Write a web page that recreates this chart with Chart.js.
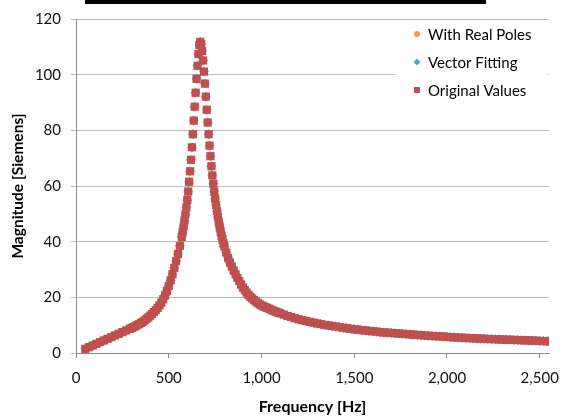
<!DOCTYPE html>
<html>
<head>
<meta charset="utf-8">
<script src="https://cdn.jsdelivr.net/npm/chart.js@4/dist/chart.umd.min.js"></script>
<style>
  html, body { margin: 0; padding: 0; background: #fff; }
  #wrap { position: relative; width: 562px; height: 416px; }
  #bar { position: absolute; left: 85px; top: 0; width: 401px; height: 4px; background: #000; }
</style>
</head>
<body>
<div id="wrap">
  <canvas id="chart" width="562" height="416"></canvas>
  <div id="bar"></div>
</div>
<script>
// frequency samples [Hz]
var freq = [
  50, 70, 90, 110, 130, 150, 170, 190, 210, 230, 250, 270, 290,
  300, 310, 320, 330, 340, 350, 360, 370, 380, 390, 400, 410, 420, 430, 440,
  450, 460, 470, 480, 490, 500, 510, 520, 530, 540, 550, 560, 570,
  575, 580, 585, 590, 595, 600, 605, 610, 615, 620, 625, 630, 635, 640, 645,
  650, 655, 660, 665, 670, 675, 680, 685, 690, 695, 700, 705, 710, 715, 720,
  725, 730, 735, 740, 745, 750, 755, 760, 765, 770, 775, 780, 785, 790, 795,
  800, 810, 820, 830, 840, 850, 860, 870, 880, 890, 900, 910, 920, 930, 940,
  950, 960, 970, 980, 990, 1000, 1010, 1020, 1030, 1040, 1050, 1060, 1070, 1080, 1090,
  1100, 1120, 1140, 1160, 1180, 1200, 1220, 1240, 1260, 1280, 1300, 1320, 1340, 1360, 1380,
  1400, 1420, 1440, 1460, 1480, 1500, 1520, 1540, 1560, 1580, 1600, 1620, 1640, 1660, 1680,
  1700, 1720, 1740, 1760, 1780, 1800, 1820, 1840, 1860, 1880, 1900, 1920, 1940, 1960, 1980,
  2000, 2020, 2040, 2060, 2080, 2100, 2120, 2140, 2160, 2180, 2200, 2220, 2240, 2260, 2280,
  2300, 2320, 2340, 2360, 2380, 2400, 2420, 2440, 2460, 2480, 2500, 2520, 2540, 2550
];
// magnitude [Siemens] of the original values
var magnitude = [
  1.5, 2.1, 2.7, 3.3, 3.9, 4.5, 5.1, 5.7, 6.3, 6.9, 7.5, 8.1, 8.7,
  9.0, 9.3, 9.6, 10.0, 10.4, 10.8, 11.2, 11.7, 12.2, 12.8, 13.4, 14.0, 14.7, 15.4, 16.2,
  17.1, 18.1, 19.3, 20.7, 22.3, 24.1, 26.1, 28.3, 30.6, 33.0, 35.6, 38.5, 41.7,
  43.5, 45.5, 47.6, 49.8, 52.3, 55.0, 58.0, 61.5, 65.3, 69.4, 73.9, 78.6, 83.5, 88.5, 93.5,
  98.5, 103.2, 107.4, 110.6, 111.8, 111.0, 108.5, 105.1, 101.1, 96.8, 92.1, 87.4, 82.8, 78.6, 74.5,
  70.7, 67.1, 63.8, 60.8, 58.0, 55.5, 53.2, 51.0, 48.9, 47.0, 45.2, 43.6, 42.1, 40.7, 39.4,
  38.2, 36.1, 34.2, 32.5, 31.0, 29.6, 28.3, 27.0, 25.8, 24.6, 23.5, 22.6, 21.7, 20.9, 20.2,
  19.6, 19.0, 18.5, 18.0, 17.5, 17.1, 16.8, 16.5, 16.2, 15.9, 15.6, 15.3, 15.0, 14.8, 14.5,
  14.3, 13.8, 13.3, 12.9, 12.5, 12.1, 11.8, 11.5, 11.2, 10.9, 10.6, 10.4, 10.1, 9.9, 9.7,
  9.5, 9.3, 9.1, 8.9, 8.7, 8.5, 8.4, 8.2, 8.1, 7.9, 7.8, 7.7, 7.5, 7.4, 7.3,
  7.2, 7.1, 7.0, 6.9, 6.8, 6.7, 6.6, 6.5, 6.4, 6.3, 6.2, 6.1, 6.05, 6.0, 5.9,
  5.8, 5.7, 5.65, 5.55, 5.5, 5.4, 5.35, 5.3, 5.2, 5.15, 5.1, 5.05, 5.0, 4.95, 4.9,
  4.85, 4.8, 4.75, 4.7, 4.65, 4.6, 4.55, 4.5, 4.45, 4.4, 4.35, 4.3, 4.25, 4.2
];
// the two fitted curves sit exactly under the original markers in the picture
var realPoles = magnitude.slice();
var vectorFit = magnitude.slice();

var seriesNames = ['With Real Poles', 'Vector Fitting', 'Original Values'];
var seriesColors = ['#f79646', '#4bacc6', '#c0504d'];
var xTicks = [0, 500, 1000, 1500, 2000, 2500];
var yTicks = [0, 20, 40, 60, 80, 100, 120];

function toPoints(ys) {
  var pts = [];
  for (var i = 0; i < freq.length; i++) pts.push({ x: freq[i], y: ys[i] });
  return pts;
}

var FONT = 'Lato, Carlito, "Open Sans", sans-serif';

// legend drawn inside the plot, top right, over a white box
var insideLegend = {
  id: 'insideLegend',
  afterDatasetsDraw: function (chart) {
    var ctx = chart.ctx;
    ctx.save();
    ctx.fillStyle = '#fff';
    ctx.fillRect(395, 21, 153, 84);
    ctx.font = '15px ' + FONT;
    ctx.textBaseline = 'middle';
    var rows = [34, 62, 90];
    for (var i = 0; i < 3; i++) {
      var y = rows[i];
      ctx.fillStyle = seriesColors[i];
      ctx.beginPath();
      if (i === 0) {
        ctx.arc(417, y, 3, 0, Math.PI * 2);
      } else if (i === 1) {
        ctx.moveTo(417, y - 3.5); ctx.lineTo(420.5, y); ctx.lineTo(417, y + 3.5); ctx.lineTo(413.5, y);
        ctx.closePath();
      } else {
        ctx.rect(414, y - 3, 6, 6);
      }
      ctx.fill();
      ctx.fillStyle = '#000';
      ctx.fillText(chart.data.datasets[i].label, 428, y + 1);
    }
    ctx.restore();
  }
};

new Chart(document.getElementById('chart'), {
  type: 'scatter',
  data: {
    datasets: [
      { label: seriesNames[0], data: toPoints(realPoles), order: 3,
        pointStyle: 'circle', pointRadius: 3.8, backgroundColor: seriesColors[0], borderColor: seriesColors[0], borderWidth: 0 },
      { label: seriesNames[1], data: toPoints(vectorFit), order: 2,
        pointStyle: 'rectRot', pointRadius: 5.0, backgroundColor: seriesColors[1], borderColor: seriesColors[1], borderWidth: 0 },
      { label: seriesNames[2], data: toPoints(magnitude), order: 1,
        pointStyle: 'rect', pointRadius: 5.8, backgroundColor: seriesColors[2], borderColor: seriesColors[2], borderWidth: 0 }
    ]
  },
  options: {
    responsive: false,
    animation: false,
    devicePixelRatio: 1,
    layout: { padding: { left: 0, right: 13, top: 19, bottom: 0 } },
    plugins: { legend: { display: false }, tooltip: { enabled: false } },
    scales: {
      x: {
        type: 'linear', min: 0, max: 2550,
        afterBuildTicks: function (s) { s.ticks = xTicks.map(function (v) { return { value: v }; }); },
        afterFit: function (s) { s.height = 63; s.paddingLeft = 0; s.paddingRight = 0; },
        grid: { drawOnChartArea: false, drawTicks: true, tickLength: 5, color: '#8c8c8c' },
        border: { color: '#8c8c8c' },
        ticks: { padding: 11, color: '#111', font: { family: FONT, size: 15 },
          callback: function (v) { return v.toLocaleString('en-US'); } },
        title: { display: true, text: 'Frequency [Hz]', color: '#000', padding: { top: 0, bottom: 0 },
          font: { family: FONT, size: 16, weight: 'bold' } }
      },
      y: {
        min: 0, max: 120,
        afterBuildTicks: function (s) { s.ticks = yTicks.map(function (v) { return { value: v }; }); },
        afterFit: function (s) { s.width = 76; s.paddingTop = 0; s.paddingBottom = 0; },
        grid: { color: '#b9b9b9', tickLength: 5 },
        border: { color: '#8c8c8c' },
        ticks: { padding: 10, color: '#111', font: { family: FONT, size: 15 } },
        title: { display: true, text: 'Magnitude [Siemens]', color: '#000', padding: { top: 9, bottom: 0 },
          font: { family: FONT, size: 15.5, weight: 'bold' } }
      }
    }
  },
  plugins: [insideLegend]
});
</script>
</body>
</html>
